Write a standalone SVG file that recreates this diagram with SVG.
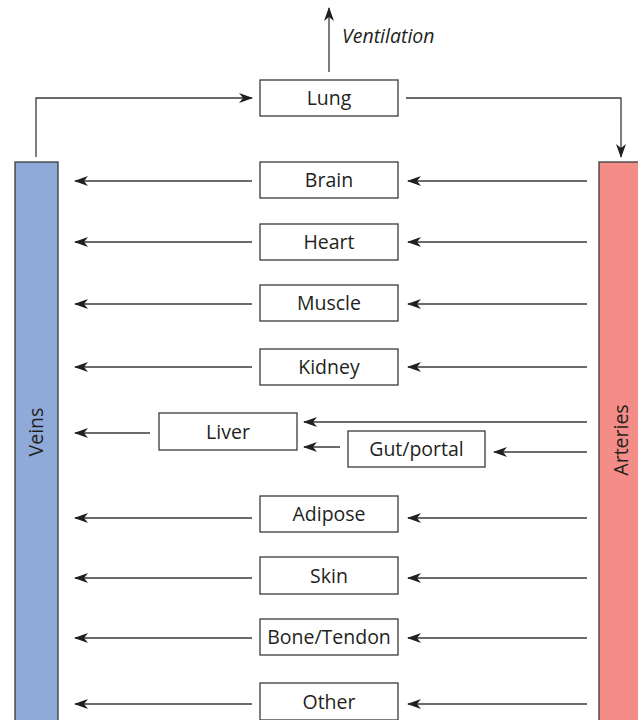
<svg xmlns="http://www.w3.org/2000/svg" width="638" height="720" viewBox="0 0 638 720">
  <style>
    .box { fill: #ffffff; stroke: #3a3a3a; stroke-width: 1.3; }
    .lbl { font-family: "Open Sans", "Noto Sans", "Liberation Sans", sans-serif; font-size: 19.5px; fill: #231f20; text-anchor: middle; }
    .edge { fill: none; stroke: #3a3a3a; stroke-width: 1.3; marker-end: url(#head); }
  </style>
  <defs>
    <marker id="head" viewBox="0 0 14 10" refX="13" refY="5" markerWidth="14" markerHeight="10" markerUnits="userSpaceOnUse" orient="auto">
      <path d="M0,0 L14,5 L0,10 L4,5 Z" fill="#231f20"/>
    </marker>
  </defs>

  <rect width="638" height="720" fill="#ffffff"/>

  <!-- vessels -->
  <g id="veins">
    <rect x="15" y="162" width="43" height="562" fill="#8fa9d8" stroke="#3a3a3a" stroke-width="1.3"/>
    <text class="lbl" transform="translate(43,432) rotate(-90)">Veins</text>
  </g>
  <g id="arteries">
    <rect x="599" y="162" width="45" height="562" fill="#f48c88" stroke="#3a3a3a" stroke-width="1.3"/>
    <text class="lbl" transform="translate(628,440) rotate(-90)">Arteries</text>
  </g>

  <!-- organs -->
  <g id="lung"><rect class="box" x="260" y="80" width="138" height="36"/><text class="lbl" x="329" y="105">Lung</text></g>
  <g id="brain"><rect class="box" x="260" y="162" width="138" height="36"/><text class="lbl" x="329" y="187">Brain</text></g>
  <g id="heart"><rect class="box" x="260" y="224" width="138" height="36"/><text class="lbl" x="329" y="249">Heart</text></g>
  <g id="muscle"><rect class="box" x="260" y="285" width="138" height="36"/><text class="lbl" x="329" y="310">Muscle</text></g>
  <g id="kidney"><rect class="box" x="260" y="349" width="138" height="36"/><text class="lbl" x="329" y="374">Kidney</text></g>
  <g id="liver"><rect class="box" x="159" y="413" width="138" height="37"/><text class="lbl" x="228" y="439">Liver</text></g>
  <g id="gut"><rect class="box" x="348" y="431" width="137" height="36"/><text class="lbl" x="416.5" y="456">Gut/portal</text></g>
  <g id="adipose"><rect class="box" x="260" y="496" width="138" height="36"/><text class="lbl" x="329" y="521">Adipose</text></g>
  <g id="skin"><rect class="box" x="260" y="557" width="138" height="37"/><text class="lbl" x="329" y="583">Skin</text></g>
  <g id="bone"><rect class="box" x="260" y="619" width="138" height="36"/><text class="lbl" x="329" y="644">Bone/Tendon</text></g>
  <g id="other"><rect class="box" x="260" y="683" width="138" height="37"/><text class="lbl" x="329" y="709">Other</text></g>

  <text class="lbl" x="342" y="43" style="text-anchor:start;font-style:italic">Ventilation</text>

  <!-- flows -->
  <g id="connectors">
    <path class="edge" d="M329,72 V8"/>
    <path class="edge" d="M36,157 V98 H252"/>
    <path class="edge" d="M406,98 H621 V157"/>

    <path class="edge" d="M587,181 H408"/>
    <path class="edge" d="M252,181 H75"/>
    <path class="edge" d="M587,242 H408"/>
    <path class="edge" d="M252,242 H75"/>
    <path class="edge" d="M587,304 H408"/>
    <path class="edge" d="M252,304 H75"/>
    <path class="edge" d="M587,367 H408"/>
    <path class="edge" d="M252,367 H75"/>

    <path class="edge" d="M587,422 H304"/>
    <path class="edge" d="M340,447 H304"/>
    <path class="edge" d="M587,452 H494"/>
    <path class="edge" d="M150,433 H75"/>

    <path class="edge" d="M587,518 H408"/>
    <path class="edge" d="M252,518 H75"/>
    <path class="edge" d="M587,578 H408"/>
    <path class="edge" d="M252,578 H75"/>
    <path class="edge" d="M587,638 H408"/>
    <path class="edge" d="M252,638 H75"/>
    <path class="edge" d="M587,704 H408"/>
    <path class="edge" d="M252,704 H75"/>
  </g>
</svg>
